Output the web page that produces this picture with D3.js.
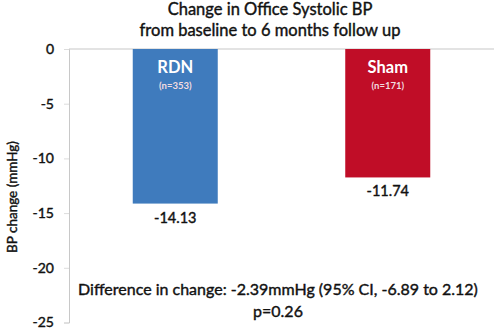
<!DOCTYPE html>
<html><head><meta charset="utf-8">
<script src="https://cdn.jsdelivr.net/npm/d3@7"></script>
<style>body{margin:0;background:#fff}svg{display:block}text{font-family:Lato,"Open Sans",sans-serif}
.med{stroke:#111;stroke-width:0.4px;paint-order:stroke}</style>
</head><body><svg id="c" width="496" height="330"></svg>
<script>
const categories = ["RDN", "Sham"];
const sampleSizes = ["(n=353)", "(n=171)"];
const values = [-14.13, -11.74];
const valueLabels = ["-14.13", "-11.74"];
const colors = ["#3f7bbd", "#c00d27"];
const yTicks = [0, -5, -10, -15, -20, -25];
const titleLines = ["Change in Office Systolic BP", "from baseline to 6 months follow up"];
const yTitle = "BP change (mmHg)";
const noteLines = ["Difference in change: -2.39mmHg (95% CI, -6.89 to 2.12)", "p=0.26"];

const svg = d3.select("#c");
const m = {l: 69, r: 2, t: 49, b: 7.5};
const W = 496, H = 330;
const x = d3.scaleBand().domain(categories).range([m.l, W - m.r]).paddingInner(0.6).paddingOuter(0.3);
const y = d3.scaleLinear().domain([0, -25]).range([m.t, H - m.b]);

// axis
const ax = svg.append("g").attr("transform", `translate(${m.l},0)`)
  .call(d3.axisLeft(y).tickValues(yTicks).tickSize(5).tickPadding(10).tickFormat(d => String(d)));
ax.select(".domain").attr("stroke", "#c8c8c8");
ax.selectAll(".tick line").attr("stroke", "#dcdcdc");
ax.selectAll(".tick text").attr("fill", "#111").attr("font-size", 14).attr("font-weight", 400)
  .attr("class", "med").style("font-family", "Lato");

// zero line
svg.append("line").attr("x1", m.l).attr("x2", W - m.r).attr("y1", y(0)).attr("y2", y(0))
  .attr("stroke", "#c8c8c8").attr("stroke-width", 1.2);

const g = svg.append("g");
g.selectAll("rect").data(values).join("rect")
  .attr("x", (d, i) => x(categories[i]))
  .attr("width", x.bandwidth())
  .attr("y", y(0))
  .attr("height", d => y(d) - y(0))
  .attr("fill", (d, i) => colors[i]);

g.selectAll("text.cat").data(categories).join("text").attr("class", "cat")
  .attr("x", d => x(d) + x.bandwidth() / 2).attr("y", y(0) + 24)
  .attr("text-anchor", "middle").attr("fill", "#fff").attr("font-size", 16.5).attr("font-weight", 700)
  .text(d => d);
g.selectAll("text.n").data(sampleSizes).join("text").attr("class", "n")
  .attr("x", (d, i) => x(categories[i]) + x.bandwidth() / 2).attr("y", y(0) + 40)
  .attr("text-anchor", "middle").attr("fill", "#f2dde0").attr("font-size", 9.5).attr("font-weight", 700)
  .text(d => d);
g.selectAll("text.v").data(values).join("text").attr("class", "v med")
  .attr("x", (d, i) => x(categories[i]) + x.bandwidth() / 2).attr("y", d => y(d) + 19)
  .attr("text-anchor", "middle").attr("fill", "#111").attr("font-size", 14.5).attr("font-weight", 400)
  .text((d, i) => valueLabels[i]);

// title
svg.selectAll("text.t").data(titleLines).join("text").attr("class", "t med")
  .attr("x", 270).attr("y", (d, i) => 15 + i * 21)
  .attr("text-anchor", "middle").attr("fill", "#111").attr("font-size", 16.5).attr("font-weight", 400)
  .text(d => d);

// y title
svg.append("text").attr("class", "med").attr("transform", `translate(17,197) rotate(-90)`)
  .attr("text-anchor", "middle").attr("fill", "#111").attr("font-size", 13.5).attr("font-weight", 400)
  .text(yTitle);

// note
svg.selectAll("text.note").data(noteLines).join("text").attr("class", "note med")
  .attr("x", 278).attr("y", (d, i) => 295 + i * 22)
  .attr("text-anchor", "middle").attr("fill", "#111").attr("font-size", 16).attr("font-weight", 400)
  .text(d => d);
</script></body></html>
